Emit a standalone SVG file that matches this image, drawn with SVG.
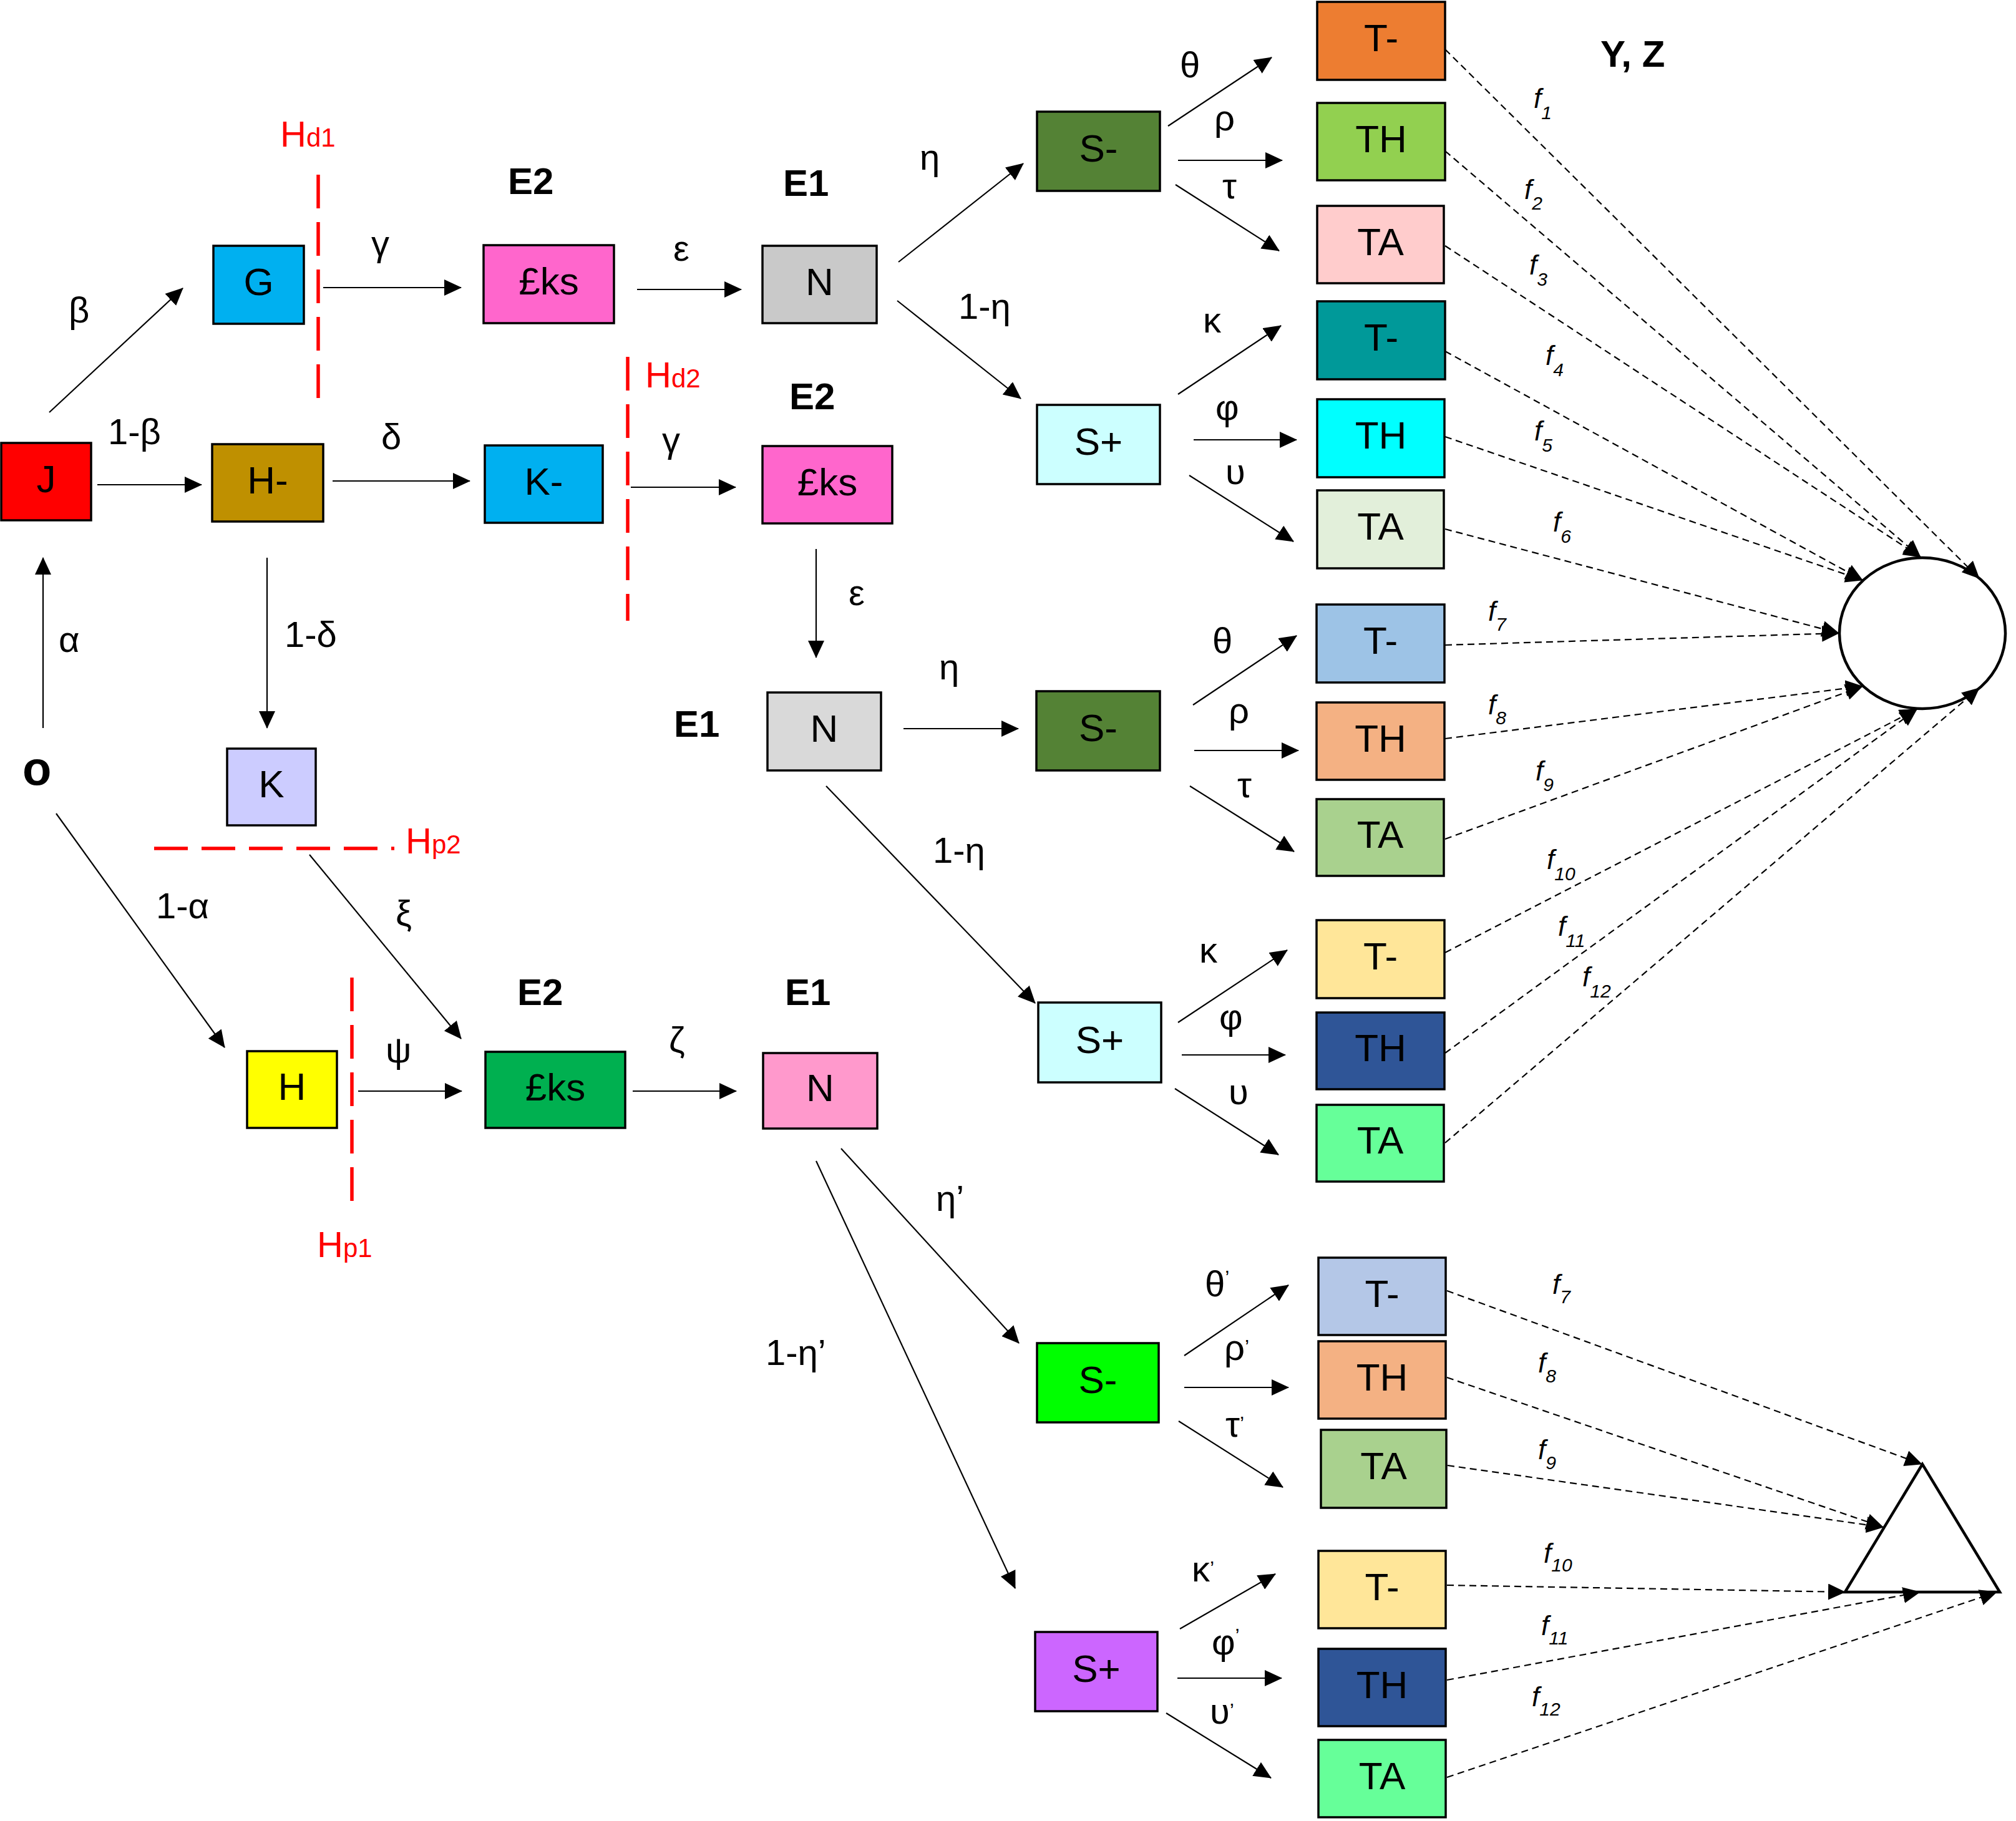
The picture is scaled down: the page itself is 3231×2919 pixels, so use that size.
<svg xmlns="http://www.w3.org/2000/svg" width="3231" height="2919" viewBox="0 0 3231 2919">
<style>
.box{stroke:#000;stroke-width:3.5}
.bt{font-family:"Liberation Sans",Arial,sans-serif;font-size:62px;text-anchor:middle;fill:#000}
.lb{font-family:"Liberation Sans",Arial,sans-serif;font-size:58px;fill:#000}
.hd{font-family:"Liberation Sans",Arial,sans-serif;font-size:60px;font-weight:bold;fill:#000}
.rl{font-family:"Liberation Sans",Arial,sans-serif;font-size:58px;fill:#FF0000}
.sm{font-size:42px}
.fl{font-family:"Liberation Sans",Arial,sans-serif;font-size:44px;font-style:italic;fill:#000}
.sub{font-size:30px}
.pr{font-size:32px}
.ar{stroke:#000;stroke-width:2.2;fill:none;marker-end:url(#ah)}
.da{stroke:#000;stroke-width:2.2;fill:none;stroke-dasharray:11 7;marker-end:url(#ah)}
.rd{stroke:#FF0000;stroke-width:5.5;stroke-dasharray:54 22;fill:none}
</style>
<defs>
<marker id="ah" markerUnits="userSpaceOnUse" markerWidth="28" markerHeight="26" refX="27" refY="13" orient="auto">
<path d="M0,0 L28,13 L0,26 z" fill="#000"/>
</marker>
</defs>
<rect width="3231" height="2919" fill="#fff"/>

<g id="hurdles">
<line class="rd" x1="510" y1="280" x2="510" y2="640"/>
<line class="rd" x1="1006" y1="572" x2="1006" y2="995"/>
<line class="rd" x1="247" y1="1360" x2="632" y2="1360"/>
<line class="rd" x1="564" y1="1567" x2="564" y2="1925"/>
<text class="rl" x="449" y="235">H<tspan class="sm">d1</tspan></text>
<text class="rl" x="1034" y="621">H<tspan class="sm">d2</tspan></text>
<text class="rl" x="650" y="1368">H<tspan class="sm">p2</tspan></text>
<text class="rl" x="508" y="2015">H<tspan class="sm">p1</tspan></text>
</g>

<g id="connectors">
<line class="ar" x1="79" y1="661" x2="293" y2="462"/>
<line class="ar" x1="156" y1="777" x2="323" y2="777"/>
<line class="ar" x1="518" y1="461" x2="739" y2="461"/>
<line class="ar" x1="533" y1="771" x2="753" y2="771"/>
<line class="ar" x1="1021" y1="464" x2="1188" y2="464"/>
<line class="ar" x1="1440" y1="420" x2="1640" y2="262"/>
<line class="ar" x1="1438" y1="482" x2="1636" y2="639"/>
<line class="ar" x1="1011" y1="781" x2="1179" y2="781"/>
<line class="ar" x1="1308" y1="880" x2="1308" y2="1054"/>
<line class="ar" x1="1448" y1="1168" x2="1632" y2="1168"/>
<line class="ar" x1="1324" y1="1260" x2="1659" y2="1608"/>
<line class="ar" x1="69" y1="1167" x2="69" y2="894"/>
<line class="ar" x1="428" y1="894" x2="428" y2="1167"/>
<line class="ar" x1="90" y1="1304" x2="360" y2="1679"/>
<line class="ar" x1="496" y1="1370" x2="739" y2="1665"/>
<line class="ar" x1="574" y1="1749" x2="740" y2="1749"/>
<line class="ar" x1="1014" y1="1749" x2="1180" y2="1749"/>
<line class="ar" x1="1348" y1="1841" x2="1633" y2="2153"/>
<line class="ar" x1="1308" y1="1861" x2="1627" y2="2546"/>

<line class="ar" x1="1872" y1="202" x2="2038" y2="92"/>
<line class="ar" x1="1888" y1="257" x2="2055" y2="257"/>
<line class="ar" x1="1884" y1="296" x2="2050" y2="402"/>
<line class="ar" x1="1888" y1="632" x2="2053" y2="522"/>
<line class="ar" x1="1913" y1="705" x2="2078" y2="705"/>
<line class="ar" x1="1906" y1="762" x2="2073" y2="868"/>
<line class="ar" x1="1912" y1="1130" x2="2078" y2="1019"/>
<line class="ar" x1="1914" y1="1203" x2="2081" y2="1203"/>
<line class="ar" x1="1907" y1="1260" x2="2074" y2="1365"/>
<line class="ar" x1="1888" y1="1639" x2="2063" y2="1523"/>
<line class="ar" x1="1894" y1="1691" x2="2060" y2="1691"/>
<line class="ar" x1="1883" y1="1745" x2="2049" y2="1851"/>
<line class="ar" x1="1898" y1="2173" x2="2065" y2="2060"/>
<line class="ar" x1="1898" y1="2224" x2="2065" y2="2224"/>
<line class="ar" x1="1889" y1="2278" x2="2056" y2="2384"/>
<line class="ar" x1="1891" y1="2611" x2="2044" y2="2523"/>
<line class="ar" x1="1887" y1="2690" x2="2054" y2="2690"/>
<line class="ar" x1="1869" y1="2746" x2="2037" y2="2850"/>

<line class="da" x1="2316" y1="79" x2="3172" y2="927"/>
<line class="da" x1="2316" y1="242" x2="3078" y2="893"/>
<line class="da" x1="2316" y1="394" x2="3078" y2="893"/>
<line class="da" x1="2316" y1="563" x2="2985" y2="930"/>
<line class="da" x1="2316" y1="700" x2="2985" y2="930"/>
<line class="da" x1="2316" y1="848" x2="2947" y2="1015"/>
<line class="da" x1="2316" y1="1034" x2="2947" y2="1015"/>
<line class="da" x1="2316" y1="1184" x2="2985" y2="1100"/>
<line class="da" x1="2316" y1="1345" x2="2985" y2="1100"/>
<line class="da" x1="2316" y1="1527" x2="3072" y2="1137"/>
<line class="da" x1="2316" y1="1688" x2="3072" y2="1137"/>
<line class="da" x1="2316" y1="1832" x2="3172" y2="1103"/>

<line class="da" x1="2319" y1="2069" x2="3080" y2="2347"/>
<line class="da" x1="2319" y1="2208" x2="3018" y2="2448"/>
<line class="da" x1="2320" y1="2349" x2="3018" y2="2448"/>
<line class="da" x1="2319" y1="2541" x2="2957" y2="2552"/>
<line class="da" x1="2319" y1="2693" x2="3077" y2="2552"/>
<line class="da" x1="2319" y1="2849" x2="3200" y2="2552"/>
</g>

<g id="labels">
<text class="lb" x="110" y="517">β</text>
<text class="lb" x="173" y="712">1-β</text>
<text class="lb" x="595" y="410">γ</text>
<text class="lb" x="611" y="720">δ</text>
<text class="lb" x="1079" y="418">ε</text>
<text class="lb" x="1474" y="272">η</text>
<text class="lb" x="1536" y="511">1-η</text>
<text class="lb" x="1061" y="725">γ</text>
<text class="lb" x="1360" y="970">ε</text>
<text class="lb" x="1505" y="1089">η</text>
<text class="lb" x="1495" y="1383">1-η</text>
<text class="lb" x="94" y="1045">α</text>
<text class="lb" x="456" y="1037">1-δ</text>
<text class="lb" x="250" y="1472">1-α</text>
<text class="lb" x="634" y="1484">ξ</text>
<text class="lb" x="618" y="1703">ψ</text>
<text class="lb" x="1072" y="1687">ζ</text>
<text class="lb" x="1500" y="1941">η’</text>
<text class="lb" x="1227" y="2188">1-η’</text>
<text class="lb" x="1891" y="124">θ</text>
<text class="lb" x="1946" y="209">ρ</text>
<text class="lb" x="1959" y="318">τ</text>
<text class="lb" x="1928" y="533">κ</text>
<text class="lb" x="1948" y="673">φ</text>
<text class="lb" x="1964" y="776">υ</text>
<text class="lb" x="1943" y="1047">θ</text>
<text class="lb" x="1969" y="1159">ρ</text>
<text class="lb" x="1983" y="1278">τ</text>
<text class="lb" x="1922" y="1543">κ</text>
<text class="lb" x="1954" y="1650">φ</text>
<text class="lb" x="1969" y="1770">υ</text>
<text class="lb" x="1931" y="2078">θ<tspan class="pr" dy="-19">’</tspan></text>
<text class="lb" x="1962" y="2180">ρ<tspan class="pr" dy="-10">’</tspan></text>
<text class="lb" x="1964" y="2303">τ<tspan class="pr" dy="-10">’</tspan></text>
<text class="lb" x="1910" y="2535">κ<tspan class="pr" dy="-10">’</tspan></text>
<text class="lb" x="1942" y="2652">φ<tspan class="pr" dy="-19">’</tspan></text>
<text class="lb" x="1939" y="2763">υ<tspan class="pr" dy="-10">’</tspan></text>
<text class="hd" x="814" y="311">E2</text>
<text class="hd" x="1255" y="314">E1</text>
<text class="hd" x="1265" y="656">E2</text>
<text class="hd" x="1080" y="1181">E1</text>
<text class="hd" x="829" y="1611">E2</text>
<text class="hd" x="1258" y="1611">E1</text>
<text class="hd" x="2565" y="107">Y, Z</text>
<text class="hd" x="36" y="1258" style="font-size:76px">o</text>

<text class="fl" x="2458" y="173">f<tspan class="sub" dy="18">1</tspan></text>
<text class="fl" x="2443" y="319">f<tspan class="sub" dy="17">2</tspan></text>
<text class="fl" x="2451" y="440">f<tspan class="sub" dy="18">3</tspan></text>
<text class="fl" x="2477" y="585">f<tspan class="sub" dy="18">4</tspan></text>
<text class="fl" x="2459" y="706">f<tspan class="sub" dy="18">5</tspan></text>
<text class="fl" x="2489" y="852">f<tspan class="sub" dy="18">6</tspan></text>
<text class="fl" x="2385" y="995">f<tspan class="sub" dy="16">7</tspan></text>
<text class="fl" x="2385" y="1145">f<tspan class="sub" dy="16">8</tspan></text>
<text class="fl" x="2461" y="1251">f<tspan class="sub" dy="17">9</tspan></text>
<text class="fl" x="2479" y="1393">f<tspan class="sub" dy="18">10</tspan></text>
<text class="fl" x="2497" y="1500">f<tspan class="sub" dy="18">11</tspan></text>
<text class="fl" x="2536" y="1581">f<tspan class="sub" dy="18">12</tspan></text>
<text class="fl" x="2488" y="2074">f<tspan class="sub" dy="15">7</tspan></text>
<text class="fl" x="2465" y="2200">f<tspan class="sub" dy="16">8</tspan></text>
<text class="fl" x="2465" y="2339">f<tspan class="sub" dy="16">9</tspan></text>
<text class="fl" x="2474" y="2505">f<tspan class="sub" dy="14">10</tspan></text>
<text class="fl" x="2470" y="2621">f<tspan class="sub" dy="15">11</tspan></text>
<text class="fl" x="2455" y="2735">f<tspan class="sub" dy="15">12</tspan></text>
</g>

<g id="n-J"><rect class="box" x="2" y="710" width="144" height="124" fill="#FF0000"/><text class="bt" x="74" y="789">J</text></g>
<g id="n-G"><rect class="box" x="342" y="394" width="145" height="125" fill="#00B0F0"/><text class="bt" x="414.5" y="473">G</text></g>
<g id="n-Eks1"><rect class="box" x="775" y="393" width="209" height="125" fill="#FF66CC"/><text class="bt" x="879.5" y="472">£ks</text></g>
<g id="n-Hminus"><rect class="box" x="340" y="712" width="178" height="124" fill="#BF9000"/><text class="bt" x="429" y="791">H-</text></g>
<g id="n-Kminus"><rect class="box" x="777" y="714" width="189" height="124" fill="#00B0F0"/><text class="bt" x="871.5" y="793">K-</text></g>
<g id="n-N1"><rect class="box" x="1222" y="394" width="183" height="124" fill="#C9C9C9"/><text class="bt" x="1313.5" y="473">N</text></g>
<g id="n-Eks2"><rect class="box" x="1222" y="715" width="208" height="124" fill="#FF66CC"/><text class="bt" x="1326" y="794">£ks</text></g>
<g id="n-N2"><rect class="box" x="1230" y="1110" width="182" height="125" fill="#D9D9D9"/><text class="bt" x="1321" y="1189">N</text></g>
<g id="n-K"><rect class="box" x="364" y="1200" width="142" height="123" fill="#CCCCFF"/><text class="bt" x="435" y="1278">K</text></g>
<g id="n-H"><rect class="box" x="396" y="1685" width="144" height="123" fill="#FFFF00"/><text class="bt" x="468" y="1763">H</text></g>
<g id="n-Eks3"><rect class="box" x="778" y="1686" width="224" height="122" fill="#00B050"/><text class="bt" x="890" y="1764">£ks</text></g>
<g id="n-N3"><rect class="box" x="1223" y="1688" width="183" height="121" fill="#FF99CC"/><text class="bt" x="1314.5" y="1765">N</text></g>

<g id="n-Sminus1"><rect class="box" x="1662" y="179" width="197" height="127" fill="#548235"/><text class="bt" x="1760.5" y="259">S-</text></g>
<g id="n-Splus1"><rect class="box" x="1662" y="649" width="197" height="127" fill="#CCFFFF"/><text class="bt" x="1760.5" y="729">S+</text></g>
<g id="n-Sminus2"><rect class="box" x="1661" y="1108" width="198" height="127" fill="#548235"/><text class="bt" x="1760" y="1188">S-</text></g>
<g id="n-Splus2"><rect class="box" x="1664" y="1607" width="197" height="128" fill="#CCFFFF"/><text class="bt" x="1762.5" y="1688">S+</text></g>
<g id="n-Sminus3"><rect class="box" x="1662" y="2153" width="195" height="127" fill="#00FF00"/><text class="bt" x="1759.5" y="2233">S-</text></g>
<g id="n-Splus3"><rect class="box" x="1659" y="2616" width="196" height="127" fill="#CC66FF"/><text class="bt" x="1757" y="2696">S+</text></g>

<g id="n-Tm1"><rect class="box" x="2111" y="3" width="205" height="125" fill="#ED7D31"/><text class="bt" x="2213.5" y="82">T-</text></g>
<g id="n-TH1"><rect class="box" x="2111" y="165" width="205" height="124" fill="#92D050"/><text class="bt" x="2213.5" y="244">TH</text></g>
<g id="n-TA1"><rect class="box" x="2111" y="330" width="203" height="124" fill="#FFCCCC"/><text class="bt" x="2212.5" y="409">TA</text></g>
<g id="n-Tm2"><rect class="box" x="2111" y="483" width="205" height="125" fill="#009999"/><text class="bt" x="2213.5" y="562">T-</text></g>
<g id="n-TH2"><rect class="box" x="2111" y="640" width="204" height="125" fill="#00FFFF"/><text class="bt" x="2213" y="719">TH</text></g>
<g id="n-TA2"><rect class="box" x="2111" y="786" width="203" height="125" fill="#E2EFDA"/><text class="bt" x="2212.5" y="865">TA</text></g>
<g id="n-Tm3"><rect class="box" x="2110" y="969" width="205" height="125" fill="#9DC3E6"/><text class="bt" x="2212.5" y="1048">T-</text></g>
<g id="n-TH3"><rect class="box" x="2110" y="1126" width="205" height="124" fill="#F4B183"/><text class="bt" x="2212.5" y="1205">TH</text></g>
<g id="n-TA3"><rect class="box" x="2110" y="1281" width="204" height="123" fill="#A9D18E"/><text class="bt" x="2212" y="1359">TA</text></g>
<g id="n-Tm4"><rect class="box" x="2110" y="1475" width="205" height="125" fill="#FFE699"/><text class="bt" x="2212.5" y="1554">T-</text></g>
<g id="n-TH4"><rect class="box" x="2110" y="1623" width="205" height="123" fill="#2F5597"/><text class="bt" x="2212.5" y="1701">TH</text></g>
<g id="n-TA4"><rect class="box" x="2110" y="1771" width="204" height="123" fill="#66FF99"/><text class="bt" x="2212" y="1849">TA</text></g>
<g id="n-Tm5"><rect class="box" x="2113" y="2016" width="204" height="124" fill="#B4C7E7"/><text class="bt" x="2215" y="2095">T-</text></g>
<g id="n-TH5"><rect class="box" x="2113" y="2150" width="204" height="124" fill="#F4B183"/><text class="bt" x="2215" y="2229">TH</text></g>
<g id="n-TA5"><rect class="box" x="2117" y="2292" width="201" height="125" fill="#A9D18E"/><text class="bt" x="2217.5" y="2371">TA</text></g>
<g id="n-Tm6"><rect class="box" x="2113" y="2486" width="204" height="124" fill="#FFE699"/><text class="bt" x="2215" y="2565">T-</text></g>
<g id="n-TH6"><rect class="box" x="2113" y="2643" width="204" height="124" fill="#2F5597"/><text class="bt" x="2215" y="2722">TH</text></g>
<g id="n-TA6"><rect class="box" x="2113" y="2789" width="204" height="124" fill="#66FF99"/><text class="bt" x="2215" y="2868">TA</text></g>

<g id="n-circle"><ellipse cx="3081" cy="1015" rx="133" ry="121" fill="none" stroke="#000" stroke-width="4.5"/></g>
<g id="n-triangle"><polygon points="3081,2347 2957,2552 3205,2552" fill="none" stroke="#000" stroke-width="4.5"/></g>
</svg>
